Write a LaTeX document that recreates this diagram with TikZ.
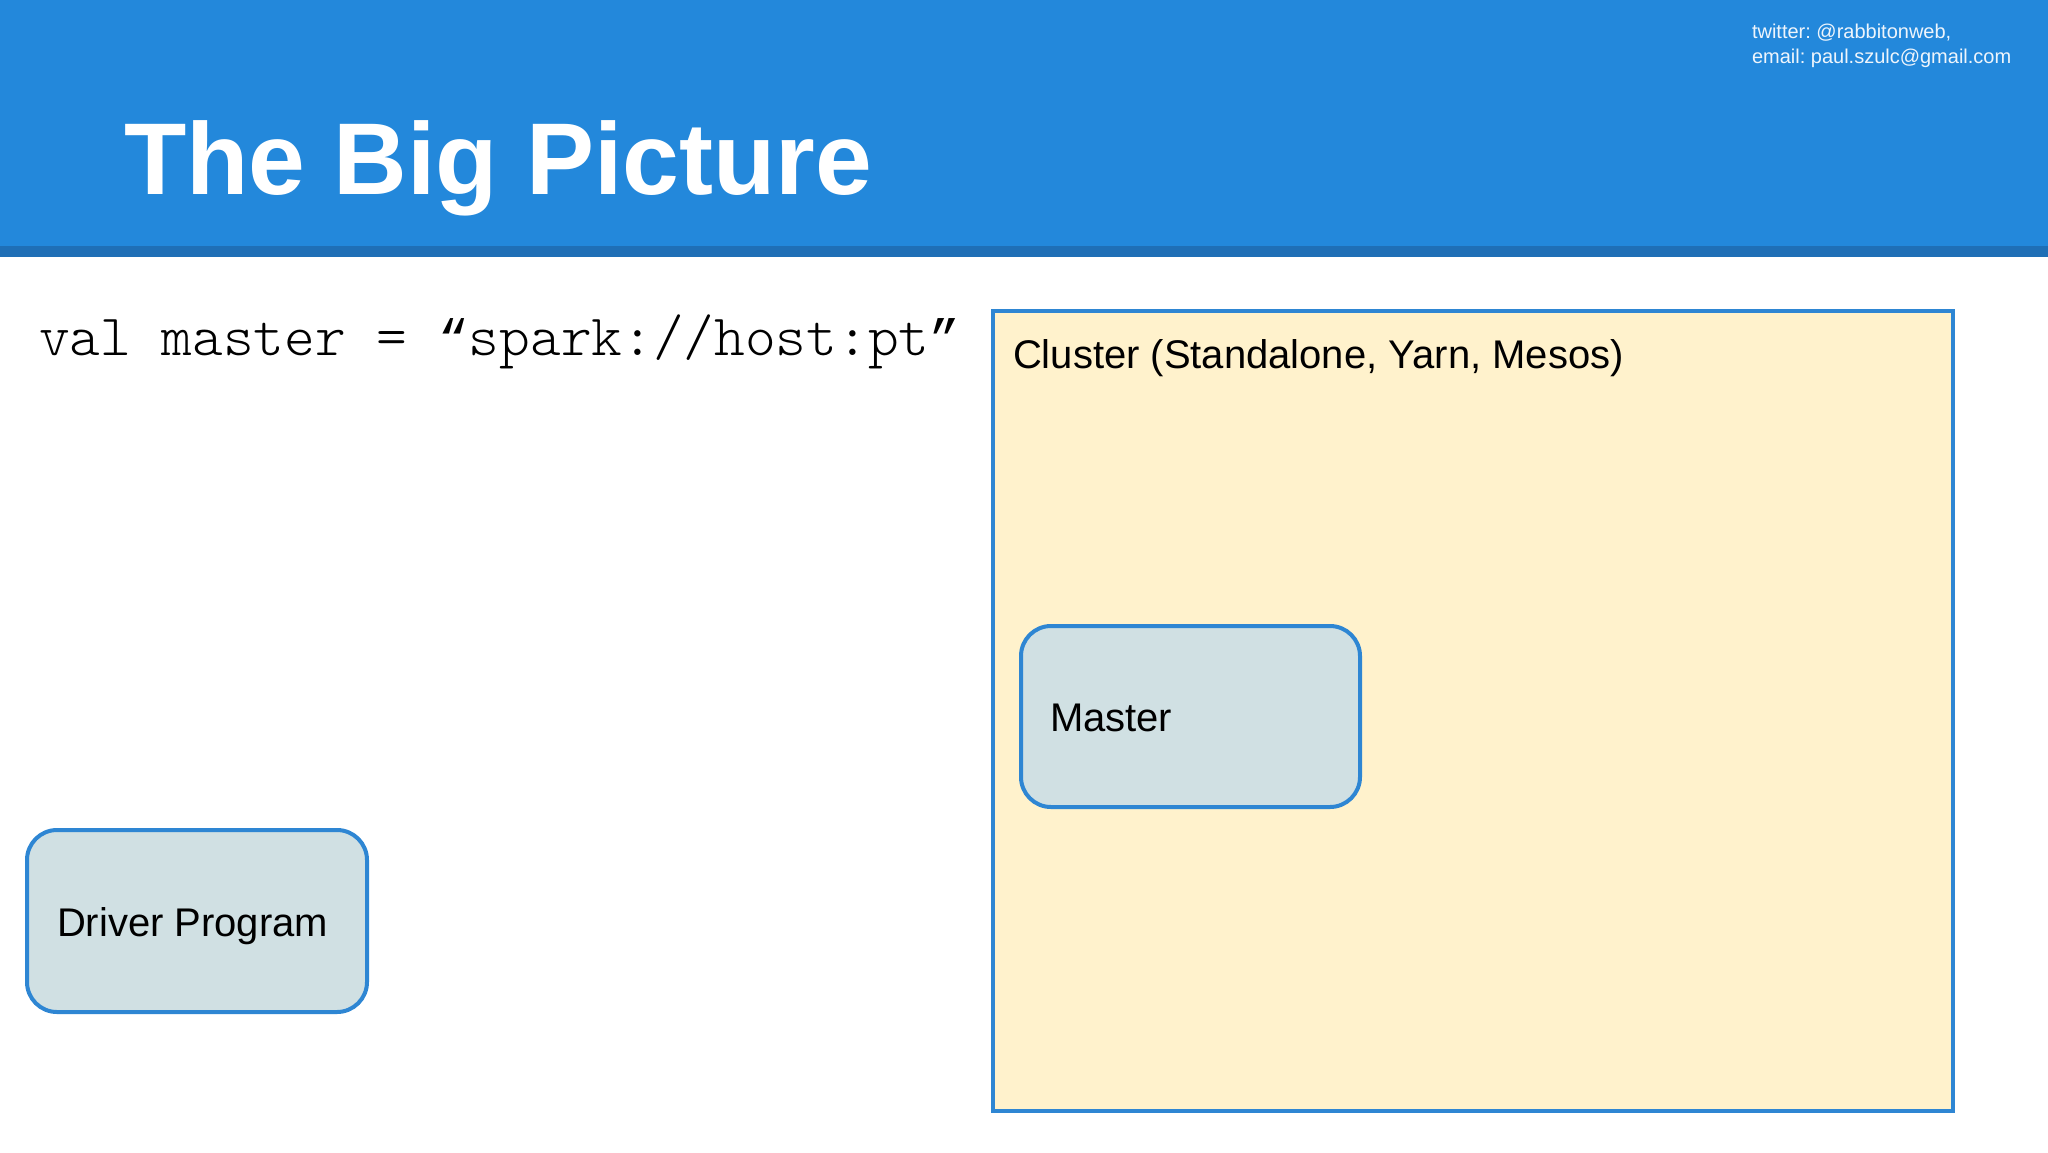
\documentclass[tikz,border=0pt]{standalone}
\usepackage{fontspec}
\setmainfont{Liberation Sans}
\newfontfamily\codefont{lmmonolt10-regular.otf}
\newfontfamily\quotefont{Liberation Mono}
\frenchspacing
\definecolor{hdrblue}{HTML}{2388DB}
\definecolor{hdrdark}{HTML}{1F6FB6}
\definecolor{strokeblue}{HTML}{2E86D3}
\definecolor{clusterfill}{HTML}{FFF2CC}
\definecolor{boxfill}{HTML}{D0E0E3}
\definecolor{smallwhite}{HTML}{EEF5FC}
\newcommand{\codequote}[1]{{\fontsize{51}{60}\selectfont\quotefont #1}}
\tikzset{
  txt/.style={inner sep=0pt, outer sep=0pt, anchor=base west},
  procbox/.style={draw=strokeblue, line width=4pt, fill=boxfill, rounded corners=30pt, inner sep=0pt, minimum width=#1},
  clusterbox/.style={draw=strokeblue, line width=4pt, fill=clusterfill, inner sep=0pt}
}
\begin{document}
\begin{tikzpicture}[x=1pt,y=-1pt]
\useasboundingbox (0,0) rectangle (2048,1152);
\fill[white] (0,0) rectangle (2048,1152);
% header
\fill[hdrblue] (0,0) rectangle (2048,246);
\fill[hdrdark] (0,246) rectangle (2048,257);
\node[txt, text=white] (title) at (124,194) {\fontsize{102}{120}\selectfont\bfseries The Big Picture};
\node[txt, text=smallwhite] (tw) at (1752,38) {\fontsize{20}{25}\selectfont twitter: @rabbitonweb,};
\node[txt, text=smallwhite] (em) at (1752,63) {\fontsize{20}{25}\selectfont email: paul.szulc@gmail.com};
% code
\node[txt] (code) at (39,355) {\fontsize{58.5}{66}\selectfont\codefont val master = \codequote{“}spark://host:pt\codequote{”}};
% cluster
\node[clusterbox, minimum width=960pt, minimum height=800pt] (cluster) at (1473,711) {};
\node[txt] (clusterlbl) at (1013,368) {\fontsize{40}{48}\selectfont Cluster (Standalone, Yarn, Mesos)};
% master
\node[procbox=339pt, minimum height=181pt] (master) at (1190.5,716.5) {};
\node[txt] (masterlbl) at (1050,731) {\fontsize{40}{48}\selectfont Master};
% driver
\node[procbox=340pt, minimum height=182pt] (driver) at (197,921) {};
\node[txt] (driverlbl) at (57,936) {\fontsize{40}{48}\selectfont Driver Program};
\end{tikzpicture}
\end{document}
